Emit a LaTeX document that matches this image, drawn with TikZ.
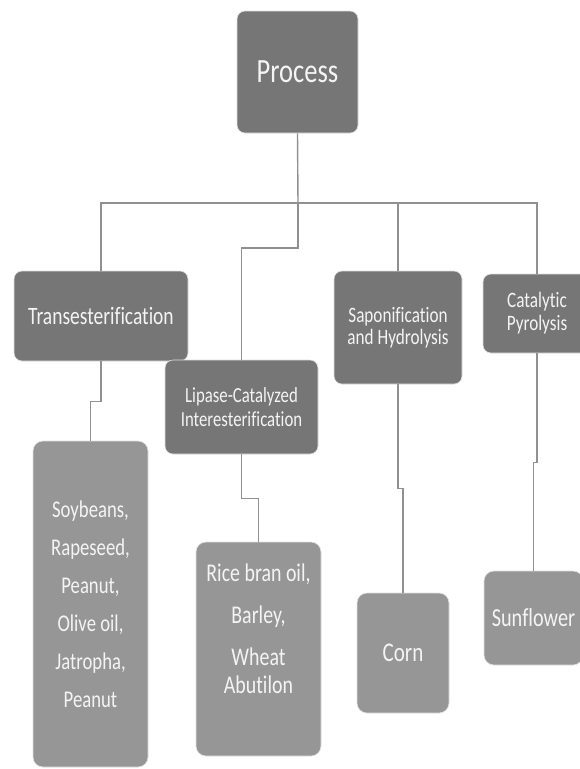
\documentclass[tikz,border=0pt]{standalone}
\usepackage{fontspec}
\setmainfont{Carlito}[FakeStretch=0.78, Ligatures={TeX,NoCommon}]
\definecolor{boxdark}{HTML}{767676}
\definecolor{boxlight}{HTML}{969696}
\definecolor{connline}{HTML}{909090}
\definecolor{boxtext}{HTML}{F4F4F4}
\begin{document}
\begin{tikzpicture}[x=1pt,y=-1pt,
  basebox/.style={rounded corners=8pt, draw=white!88!black, line width=0.6pt,
    text=boxtext, inner sep=0pt, align=center},
  procbox/.style={basebox, fill=boxdark},
  itembox/.style={basebox, fill=boxlight, rounded corners=10pt},
  txt/.style={text=boxtext, inner sep=0pt, align=center},
  connector/.style={draw=connline, line width=1.4pt}
]
\useasboundingbox (0,0) rectangle (579,769);

% process boxes
\node[procbox, minimum width=121pt, minimum height=122pt,
  font=\fontsize{34}{40}\selectfont] (proc) at (297.5,72) {Process};
\node[procbox, minimum width=174pt, minimum height=90pt,
  font=\fontsize{25}{28}\selectfont] (trans) at (101,316) {Transesterification};
\node[procbox, minimum width=153pt, minimum height=94pt,
  font=\fontsize{21.5}{23.5}\selectfont] (lip) at (241.5,407) {Lipase-Catalyzed\\Interesterification};
\node[procbox, minimum width=128pt, minimum height=113pt,
  font=\fontsize{22}{22}\selectfont] (sap) at (398,327.5) {Saponification\\and Hydrolysis};
\node[procbox, minimum width=108pt, minimum height=79pt,
  font=\fontsize{22}{23}\selectfont] (cat) at (537,313.5) {Catalytic\\Pyrolysis};

% item boxes
\node[itembox, minimum width=115pt, minimum height=326pt,
  font=\fontsize{24}{38}\selectfont] (soy) at (90.5,604)
  {Soybeans,\\Rapeseed,\\Peanut,\\Olive oil,\\Jatropha,\\Peanut};
\node[itembox, minimum width=125pt, minimum height=214pt] (rice) at (258.5,649) {};
\node[txt, font=\fontsize{25.5}{28}\selectfont] (ricetxt) at (258.5,629)
  {Rice bran oil,\\[14pt]Barley,\\[14pt]Wheat\\Abutilon};
\node[itembox, minimum width=92pt, minimum height=120pt,
  font=\fontsize{27}{30}\selectfont] (corn) at (403,653) {Corn};
\node[itembox, minimum width=99pt, minimum height=94pt,
  font=\fontsize{26}{30}\selectfont] (sun) at (533.5,618) {Sunflower};

% connectors
\coordinate (hub) at (298,203);
\draw[connector] (proc.south) -- (hub);
\draw[connector] (hub) -| (trans.north);
\draw[connector] (hub) -| (sap.north);
\draw[connector] (hub) -| (cat.north);
\draw[connector] (hub) -- ++(0,45) -| (lip.north);
\draw[connector] (trans.south) -- ++(0,40) -| (soy.north);
\draw[connector] (lip.south) -- ++(0,44) -| (rice.north);
\draw[connector] (sap.south) -- ++(0,104) -| (corn.north);
\draw[connector] (cat.south) -- ++(0,109) -| (sun.north);
\end{tikzpicture}
\end{document}
